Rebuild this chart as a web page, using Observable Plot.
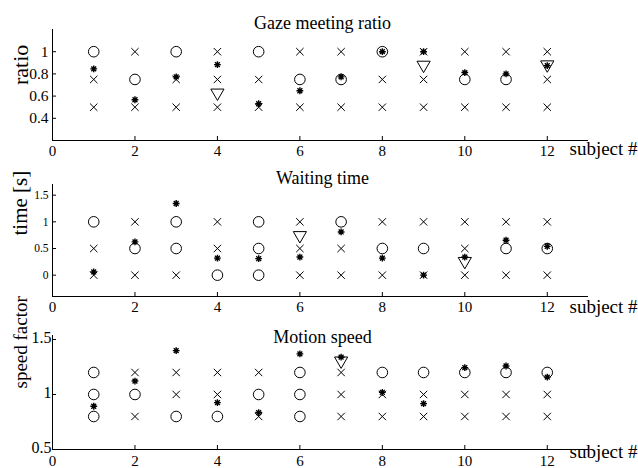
<!DOCTYPE html>
<html><head><meta charset="utf-8">
<script src="https://cdn.jsdelivr.net/npm/d3@7"></script>
<script src="https://cdn.jsdelivr.net/npm/@observablehq/plot@0.6"></script>
<style>
body{margin:0;background:#fff;}
#chart{position:relative;width:638px;height:468px;font-family:"Liberation Serif","Times New Roman",serif;}
#chart svg{position:absolute;left:0;top:0;}
#chart svg text{font-family:"Liberation Serif","Times New Roman",serif;}
</style></head><body><div id="chart"></div>
<script>
const subjects = [1,2,3,4,5,6,7,8,9,10,11,12];
const xTicks = [0,2,4,6,8,10,12];

// Panel 1: Gaze meeting ratio
const gazeLevels = [0.5, 0.75, 1];
const gazeCircleSubj = [1, 2, 3, 5, 6, 7, 8, 10, 11];
const gazeCircleVal  = [1, 0.75, 1, 1, 0.75, 0.75, 1, 0.75, 0.75];
const gazeStar = [0.845, 0.567, 0.773, 0.884, 0.531, 0.648, 0.773, 1.0, 1.0, 0.812, 0.80, 0.875];
const gazeTriSubj = [4, 9, 12];
const gazeTriVal  = [0.612, 0.863, 0.866];
const gazeTicks = [0.4, 0.6, 0.8, 1];

// Panel 2: Waiting time
const waitLevels = [0, 0.5, 1];
const waitCircleSubj = [1, 2, 3, 3, 4, 5, 5, 5, 7, 8, 9, 11, 12];
const waitCircleVal  = [1, 0.5, 1, 0.5, 0, 1, 0.5, 0, 1, 0.5, 0.5, 0.5, 0.5];
const waitStar = [0.06, 0.625, 1.344, 0.319, 0.31, 0.34, 0.81, 0.32, 0.0, 0.34, 0.656, 0.54];
const waitTriSubj = [6, 10];
const waitTriVal  = [0.71, 0.225];
const waitTicks = [0, 0.5, 1, 1.5];

// Panel 3: Motion speed
const speedLevels = [0.8, 1, 1.2];
const speedCircleSubj = [1, 1, 1, 2, 3, 4, 5, 6, 6, 6, 8, 9, 10, 11, 12];
const speedCircleVal  = [1.2, 1, 0.8, 1, 0.8, 0.8, 1, 1.2, 1, 0.8, 1.2, 1.2, 1.2, 1.2, 1.2];
const speedStar = [0.893, 1.122, 1.399, 0.926, 0.836, 1.369, 1.339, 1.02, 0.917, 1.244, 1.259, 1.158];
const speedTriSubj = [7];
const speedTriVal  = [1.289];
const speedTicks = [0.5, 1, 1.5];

const FONT = '"Liberation Serif","Times New Roman",serif';

const triDown = {draw(ctx, size) {
  const r = Math.sqrt(size / Math.PI), w = r * 1.1, h = r * 0.95;
  ctx.moveTo(-w, -h); ctx.lineTo(w, -h); ctx.lineTo(0, h); ctx.closePath();
}};
const star8 = {draw(ctx, size) {
  const r = Math.sqrt(size / Math.PI), d = r * 0.7071;
  ctx.moveTo(-r, 0); ctx.lineTo(r, 0); ctx.moveTo(0, -r); ctx.lineTo(0, r);
  ctx.moveTo(-d, -d); ctx.lineTo(d, d); ctx.moveTo(-d, d); ctx.lineTo(d, -d);
}};
const cross = {draw(ctx, size) {
  const r = Math.sqrt(size / Math.PI);
  ctx.moveTo(-r, -r); ctx.lineTo(r, r); ctx.moveTo(-r, r); ctx.lineTo(r, -r);
}};

function panel(o) {
  const circles = o.circS.map((s, i) => ({s, v: o.circV[i]}));
  const crosses = [];
  for (const s of subjects) for (const v of o.levels)
    if (!circles.some(c => c.s === s && c.v === v)) crosses.push({s, v});
  const stars = subjects.map((s, i) => ({s, v: o.star[i]}));
  const tris = o.triS.map((s, i) => ({s, v: o.triV[i]}));
  return Plot.plot({
    width: 638, height: 468,
    marginLeft: 52, marginRight: 50,
    marginTop: o.top, marginBottom: 468 - o.bottom,
    style: {fontFamily: FONT, background: "transparent", overflow: "visible", color: "black"},
    x: {domain: [0, 13]},
    y: {domain: o.yDomain},
    marks: [
      Plot.ruleX([0], {stroke: "black", strokeWidth: 1}),
      Plot.ruleY([o.yDomain[0]], {stroke: "black", strokeWidth: 1}),
      Plot.axisX(xTicks, {tickSize: 4, dy: -4, tickFormat: () => "", label: null, stroke: "black"}),
      Plot.axisX(xTicks, {tickSize: 0, tickPadding: o.xPad, fontSize: 15, fontFamily: FONT, label: null, tickFormat: d => String(d), fill: "black"}),
      Plot.axisY(o.yTicks, {tickSize: 4, dx: 4, tickFormat: () => "", label: null, stroke: "black"}),
      Plot.axisY(o.yTicks, {tickSize: 0, tickPadding: o.yPad, dy: o.yTickDy, fontSize: o.yFont, fontFamily: FONT, label: null, tickFormat: d => String(d), fill: "black"}),
      Plot.dot(crosses, {x: "s", y: "v", symbol: cross, r: 3.7, fill: "none", stroke: "black", strokeWidth: 1}),
      Plot.dot(circles, {x: "s", y: "v", symbol: "circle", r: 5.3, fill: "none", stroke: "black", strokeWidth: 1}),
      Plot.dot(tris, {x: "s", y: "v", symbol: triDown, r: 6, fill: "none", stroke: "black", strokeWidth: 1}),
      Plot.dot(stars, {x: "s", y: "v", symbol: star8, r: 3.4, fill: "none", stroke: "black", strokeWidth: 1.4}),
      Plot.text([o.title], {frameAnchor: "top", dx: 2, dy: o.titleDy, fontSize: 18, fontFamily: FONT, fill: "black"}),
      Plot.text(["subject #"], {frameAnchor: "bottom-right", textAnchor: "start", dx: -19, dy: o.subjDy, fontSize: 19, fontFamily: FONT, fill: "black"}),
      Plot.text([o.ylabel], {frameAnchor: "left", rotate: -90, dx: -32, dy: o.ylabDy, fontSize: o.ylabFont, fontFamily: FONT, fill: "black"})
    ]
  });
}

const chart = document.getElementById("chart");
chart.append(panel({
  title: "Gaze meeting ratio", ylabel: "ratio", levels: gazeLevels,
  circS: gazeCircleSubj, circV: gazeCircleVal, star: gazeStar, triS: gazeTriSubj, triV: gazeTriVal,
  yDomain: [0.2, 1.2], yTicks: gazeTicks, yFont: 15.5, yPad: 4, yTickDy: 0, xPad: 5,
  top: 29, bottom: 140, titleDy: -13, subjDy: 14, ylabDy: 0, ylabFont: 22
}));
chart.append(panel({
  title: "Waiting time", ylabel: "time [s]", levels: waitLevels,
  circS: waitCircleSubj, circV: waitCircleVal, star: waitStar, triS: waitTriSubj, triV: waitTriVal,
  yDomain: [-0.4, 1.7], yTicks: waitTicks, yFont: 11.5, yPad: 4, yTickDy: 0, xPad: 5,
  top: 184, bottom: 296, titleDy: -13, subjDy: 16, ylabDy: -5, ylabFont: 21
}));
chart.append(panel({
  title: "Motion speed", ylabel: "speed factor", levels: speedLevels,
  circS: speedCircleSubj, circV: speedCircleVal, star: speedStar, triS: speedTriSubj, triV: speedTriVal,
  yDomain: [0.5, 1.536], yTicks: speedTicks, yFont: 16, yPad: 1, yTickDy: -1.5, xPad: 5.5,
  top: 335, bottom: 449, titleDy: -5.5, subjDy: 8, ylabDy: -4, ylabFont: 19
}));
</script></body></html>
